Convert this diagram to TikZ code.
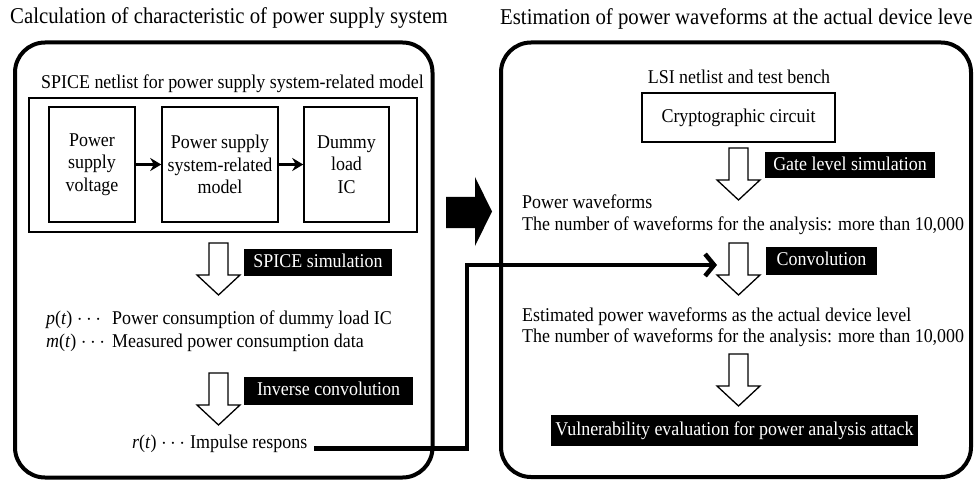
\documentclass[tikz,border=0pt]{standalone}
\usepackage{fontspec}
\setmainfont[FakeStretch=0.92]{Liberation Serif}
\usetikzlibrary{arrows.meta}
\begin{document}
\begin{tikzpicture}[x=1pt,y=-1pt,
  every node/.style={font=\fontsize{19.5pt}{22.5pt}\selectfont, inner sep=0pt},
  txt/.style={anchor=base west},
  ctxt/.style={anchor=base},
  ttl/.style={anchor=base west, font=\fontsize{22.6pt}{24pt}\selectfont},
  panel/.style={draw, line width=4pt, rounded corners=30pt},
  thinbox/.style={draw, line width=1.5pt, align=center},
  lab/.style={fill=black, text=white, text height=14pt, text depth=4.5pt},
  blk/.style={line width=3pt, -{Stealth[length=11pt,width=13pt]}},
  conn/.style={line width=4.5pt, -{Straight Barb[length=9pt,width=22pt]}},
  hollow/.pic={\draw[line width=1.3pt, fill=white] (-9.5,0) -- (-9.5,32) -- (-21.5,32) -- (0,52) -- (21.5,32) -- (9.5,32) -- (9.5,0) -- cycle;}
]
\useasboundingbox (0,0) rectangle (974,481);

% titles
\node[ttl] (t1) at (10,23.5) {Calculation of characteristic of power supply system};
\node[ttl] (t2) at (500,24.5) {Estimation of power waveforms at the actual device leve};

% panels
\node[panel, minimum width=417.5pt, minimum height=435pt] (lp) at (223.75,260) {};
\node[panel, minimum width=470pt, minimum height=434.5pt] (rp) at (736,259.75) {};

% big arrow between panels
\fill[black] (446,197) -- (475,197) -- (475,177) -- (492,211.5) -- (475,246) -- (475,228) -- (446,228) -- cycle;

% left panel
\node[ctxt] (spnet) at (232.5,88.5) {SPICE netlist for power supply system-related model};
\node[thinbox, minimum width=388pt, minimum height=134pt] (netlist) at (223,165) {};
\node[thinbox, minimum width=86pt, minimum height=115pt] (b1) at (92,164.5) {Power\\supply\\voltage};
\node[thinbox, minimum width=116pt, minimum height=115pt] (b2) at (220,164.5) {Power supply\\system-related\\model};
\node[thinbox, minimum width=85pt, minimum height=115pt] (b3) at (346.5,164.5) {Dummy\\load\\IC};
\draw[blk] (b1) -- (b2);
\draw[blk] (b2) -- (b3);

\pic at (218.5,243) {hollow};
\node[lab, minimum width=148pt, minimum height=27pt] (spsim) at (318,262.5) {SPICE simulation};
\node[txt] (pt) at (46,324) {\makebox[66pt][l]{\textit{p}(\textit{t}) $\cdots$}Power consumption of dummy load IC};
\node[txt] (mt) at (46,347) {\makebox[66pt][l]{\textit{m}(\textit{t}) $\cdots$}Measured power consumption data};
\pic at (218.5,373) {hollow};
\node[lab, minimum width=169pt, minimum height=28pt] (invc) at (328.5,391) {Inverse convolution};
\node[txt] (rt) at (132,448) {\makebox[58pt][l]{\textit{r}(\textit{t}) $\cdots$}Impulse respons};

% right panel
\node[ctxt] (lsi) at (739,84) {LSI netlist and test bench};
\node[thinbox, minimum width=193pt, minimum height=49pt] (crypto) at (738.5,117.5) {Cryptographic circuit};
\pic at (738.5,148) {hollow};
\node[lab, minimum width=170pt, minimum height=26pt] (gate) at (850,165.5) {Gate level simulation};
\node[txt] (pw) at (522,208) {Power waveforms};
\node[txt] (pwn) at (522,230.5) {The number of waveforms for the analysis: more than 10,000};
\pic at (738.5,243) {hollow};
\node[lab, minimum width=111pt, minimum height=28pt] (conv) at (821.5,261) {Convolution};
\node[txt] (ew) at (522,321) {Estimated power waveforms as the actual device level};
\node[txt] (ewn) at (522,342) {The number of waveforms for the analysis: more than 10,000};
\pic at (738.5,354) {hollow};
\node[lab, minimum width=367pt, minimum height=31pt] (vuln) at (734.5,430.5) {Vulnerability evaluation for power analysis attack};

% connector
\coordinate (bend) at (467,265);
\coordinate (convin) at (717,265);
\draw[conn] ([xshift=7pt,yshift=-0.5pt]rt.base east) -| (bend) -- (convin);
\end{tikzpicture}
\end{document}
